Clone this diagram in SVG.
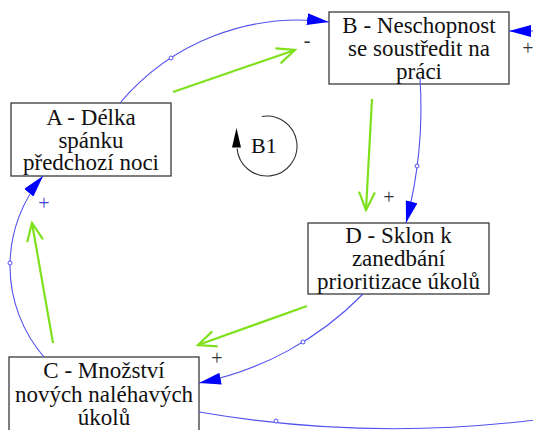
<svg xmlns="http://www.w3.org/2000/svg" width="533" height="430" viewBox="0 0 533 430">
<style>
.box{fill:#fff;stroke:#3a3a3a;stroke-width:1.3}
.t{font-size:23px;fill:#111;text-anchor:middle}
.lk{fill:none;stroke:#5050f0;stroke-width:1.1}
.dot{fill:#fff;stroke:#5050f0;stroke-width:1}
.gr{fill:none;stroke:#7fe01e;stroke-width:2.2}
.pl{font-size:20px;fill:#333;text-anchor:middle}
</style>
<defs>
<marker id="ah" markerUnits="userSpaceOnUse" viewBox="0 0 22 12" markerWidth="22" markerHeight="12" refX="22" refY="6" orient="auto"><path d="M0,0 L22,6 L0,12 z" fill="#0000ff"/></marker>
<marker id="gh" markerUnits="userSpaceOnUse" viewBox="0 0 22 18" markerWidth="22" markerHeight="18" refX="20" refY="9" orient="auto"><path d="M2,1 L20,9 L2,17" fill="none" stroke="#7fe01e" stroke-width="2.2"/></marker>
</defs>
<g font-family="Liberation Serif, Times New Roman, Times, serif">
<g id="A">
<rect class="box" x="11" y="103" width="160" height="73"/>
<text class="t" x="91" y="125">A - Délka</text>
<text class="t" x="91" y="147.5">spánku</text>
<text class="t" x="91" y="170">předchozí noci</text>
</g>
<g id="B">
<rect class="box" x="329" y="12" width="180" height="72"/>
<text class="t" x="419" y="32.5">B - Neschopnost</text>
<text class="t" x="419" y="55.5">se soustředit na</text>
<text class="t" x="419" y="78.5">práci</text>
</g>
<g id="D">
<rect class="box" x="308" y="223" width="181" height="71"/>
<text class="t" x="398.5" y="243">D - Sklon k</text>
<text class="t" x="398.5" y="266">zanedbání</text>
<text class="t" x="398.5" y="289">prioritizace úkolů</text>
</g>
<g id="C">
<rect class="box" x="9" y="357" width="190" height="80"/>
<text class="t" x="104" y="378">C - Množství</text>
<text class="t" x="104" y="401.5">nových naléhavých</text>
<text class="t" x="104" y="425">úkolů</text>
</g>
<g id="connectors">
<path class="lk" d="M120,103 A234,234 0 0,1 329,22" marker-end="url(#ah)"/>
<circle class="dot" cx="171" cy="58" r="2"/>
<path class="lk" d="M420,78 A453,453 0 0,1 406,223" marker-end="url(#ah)"/>
<circle class="dot" cx="417" cy="166" r="2"/>
<path class="lk" d="M363,294 A316,316 0 0,1 199,383" marker-end="url(#ah)"/>
<circle class="dot" cx="303" cy="342" r="2"/>
<path class="lk" d="M44,357 A139,139 0 0,1 43,176" marker-end="url(#ah)"/>
<circle class="dot" cx="10" cy="263" r="2"/>
<path class="lk" d="M199,412 A1152,1152 0 0,0 545,418.7"/>
<circle class="dot" cx="276" cy="421" r="2"/>
<path class="lk" d="M545,31 L509,31" marker-end="url(#ah)"/>
<text class="pl" x="307" y="47" font-size="22">-</text>
<text class="pl" x="528" y="55">+</text>
<text class="pl" x="389" y="204">+</text>
<text class="pl" x="217" y="365">+</text>
<text class="pl" x="44" y="210" fill="#4040d0" style="fill:#4040d0">+</text>
</g>
<g id="loop-arrows">
<path class="gr" d="M173,92 L295,50" marker-end="url(#gh)"/>
<path class="gr" d="M372,99 L366,210" marker-end="url(#gh)"/>
<path class="gr" d="M307,306 L198,345" marker-end="url(#gh)"/>
<path class="gr" d="M53,343 L32,223" marker-end="url(#gh)"/>
</g>
<g id="B1">
<path d="M261.8,116.5 A30,30 0 1,1 237.1,148.6" fill="none" stroke="#333" stroke-width="1.1"/>
<path d="M236.5,128 L232,147.5 L241,147.5 z" fill="#000"/>
<text x="251" y="153" font-size="22" fill="#111">B1</text>
</g>
</g>
</svg>
